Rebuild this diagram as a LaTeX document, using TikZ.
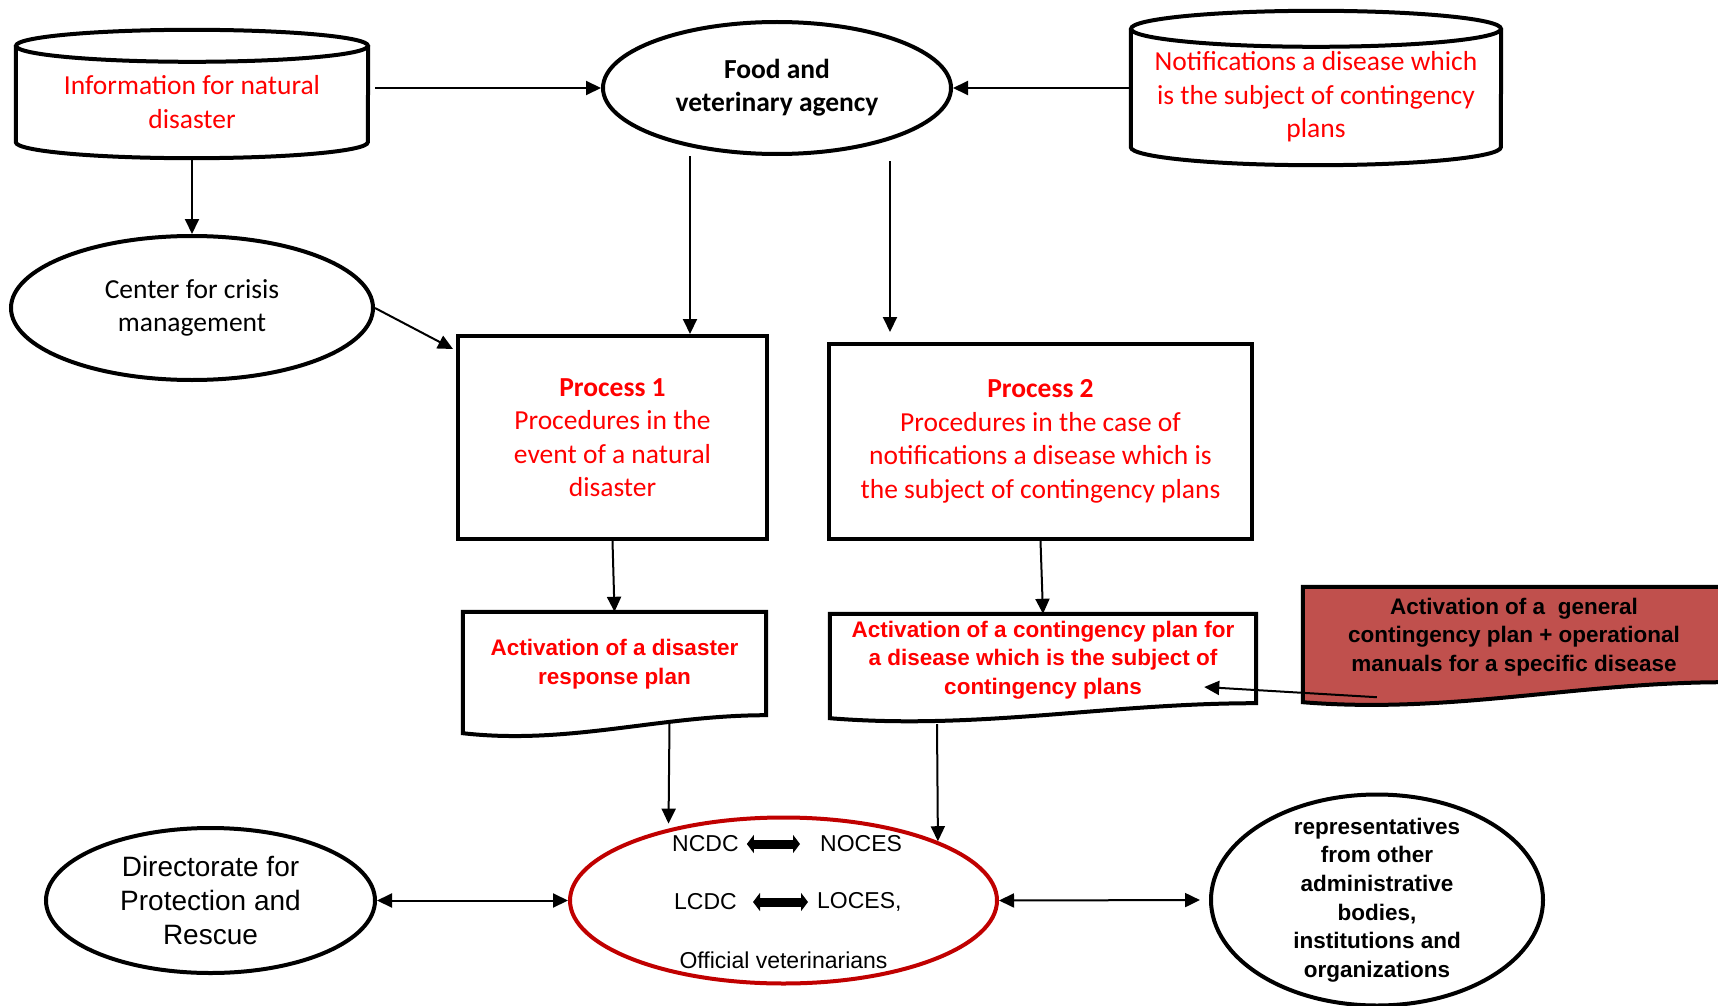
\documentclass[tikz,border=0pt]{standalone}
\usepackage{fontspec}
\setmainfont{Carlito}
\newfontfamily\robo{Liberation Sans}
\usetikzlibrary{arrows.meta,calc,shapes.geometric}

\definecolor{txtred}{RGB}{255,0,0}
\definecolor{opsred}{RGB}{192,0,0}
\definecolor{genfill}{RGB}{192,80,77}

\begin{document}
\begin{tikzpicture}[x=1pt,y=-1pt,
    cal/.style={align=center, inner sep=0pt, font=\fontsize{27.5}{33.5}\selectfont},
    rob/.style={align=center, inner sep=0pt, font=\robo\fontsize{23}{29}\selectfont},
    robb/.style={align=center, inner sep=0pt, font=\robo\bfseries\fontsize{22.5}{28.6}\selectfont},
    ell/.style={draw, ellipse, line width=4pt},
    box/.style={draw, rectangle, line width=4pt},
    arr/.style={line width=2pt, -{Triangle[length=15pt,width=14pt]}},
    darr/.style={line width=2pt, {Triangle[length=15pt,width=14pt]}-{Triangle[length=15pt,width=14pt]}},
    fat/.style={line width=9pt, {Triangle[length=7pt,width=18pt]}-{Triangle[length=7pt,width=18pt]}}]
	\useasboundingbox (0,0) rectangle (1718,1006);

	% Data stores
	\node[cal, text=txtred, minimum width=352pt, minimum height=80pt] (info) at (192,102)
		{Information for natural\\disaster};
	\node[cal, text=txtred, minimum width=370pt, minimum height=100pt] (notif) at (1316,97)
		{Notifications a disease which\\is the subject of contingency\\plans};
	\foreach \n/\r/\e in {info/176/16, notif/185/18}{
		\draw[line width=4pt] ($(\n.north)+(0,-\e)$) ellipse [x radius=\r, y radius=\e];
		\draw[line width=4pt] ($(\n.north west)+(0,-\e)$) -- (\n.south west)
			arc[start angle=180, end angle=0, x radius=\r, y radius=\e]
			-- ($(\n.north east)+(0,-\e)$);
	}

	% Agencies
	\node[ell, cal, font=\bfseries\fontsize{27.5}{33}\selectfont, minimum width=348pt, minimum height=132pt] (food) at (777,88)
		{Food and\\veterinary agency};
	\node[ell, cal, minimum width=362pt, minimum height=144pt] (centre) at (192,308)
		{Center for crisis\\management};

	% Processes
	\node[box, cal, text=txtred, minimum width=309pt, minimum height=203pt] (p1) at (612.5,437.5)
		{\textbf{Process 1}\\Procedures in the\\event of a natural\\disaster};
	\node[box, cal, text=txtred, minimum width=423pt, minimum height=195pt] (p2) at (1040.5,441.5)
		{\textbf{Process 2}\\Procedures in the case of\\notifications a disease which is\\the subject of contingency plans};

	% Documents
	\node[robb, minimum width=303pt, minimum height=104pt] (act1) at (614.5,664) {};
	\node[robb, minimum width=426pt, minimum height=92pt] (act2) at (1043,660) {};
	\node[robb, minimum width=422pt, minimum height=100pt] (gen) at (1514,637) {};
	\foreach \n/\l/\r/\c in {act1/17/-1/none, act2/12/-3/none, gen/15/-5/genfill}{
		\draw[line width=4pt, fill=\c] (\n.north west) -- (\n.north east) -- ($(\n.south east)+(0,\r)$)
			.. controls ($(\n.south east)!0.35!(\n.south west)+(0,\r)$)
			and ($(\n.south west)!0.35!(\n.south east)+(0,\l+12)$) .. ($(\n.south west)+(0,\l)$) -- cycle;
	}
	\node[robb, text=txtred] at (act1) {Activation of a disaster\\response plan};
	\node[robb, text=txtred] at (act2) {Activation of a contingency plan for\\a disease which is the subject of\\contingency plans};
	\node[robb] at (gen) {Activation of a~ general\\contingency plan + operational\\manuals for a specific disease};

	% Bottom row
	\node[ell, draw=opsred, minimum width=427pt, minimum height=166pt] (ops) at (783.5,900.5) {};
	\node[rob, anchor=west] (ncdc) at (672,844) {NCDC};
	\node[rob, anchor=west] (noces) at (820,844) {NOCES};
	\node[rob, anchor=west] (lcdc) at (674,902) {LCDC};
	\node[rob, anchor=west] (loces) at (817,902) {LOCES,};
	\node[rob] (offv) at (783.5,960) {Official veterinarians};
	\draw[fat, shorten <=8pt, shorten >=20pt] (ncdc.east) -- (noces.west);
	\draw[fat, shorten <=16pt, shorten >=9pt] (lcdc.east) -- (loces.west);

	\node[ell, rob, font=\robo\fontsize{28}{34}\selectfont, minimum width=329pt, minimum height=145pt] (dir) at (210.5,900.5)
		{Directorate for\\Protection and\\Rescue};
	\node[ell, robb, inner ysep=-14pt, minimum width=332pt, minimum height=211pt] (reps) at (1377,900)
		{representatives\\from other\\administrative\\bodies,\\institutions and\\organizations};

	% Connectors
	\draw[arr, shorten <=7pt] (info.east |- food.west) -- (food.west);
	\draw[arr] (notif.west |- food.east) -- (food.east);
	\draw[arr] ($(info.south)+(0,16)$) -- (centre.north);
	\draw[arr] (centre.east) -- ($(p1.north west)+(-3,15)$);
	\coordinate (f1) at ($(food.south)+(-87,0)$);
	\coordinate (f2) at ($(food.south)+(113,5)$);
	\draw[arr] (f1) -- (f1 |- p1.north);
	\draw[arr, shorten >=10pt] (f2) -- (f2 |- p2.north);
	\draw[arr] (p1.south) -- (act1.north);
	\draw[arr] (p2.south) -- (act2.north);
	\coordinate (g1) at ($(gen.south west)+(74,10)$);
	\coordinate (g2) at ($(act2.east)+(-52,27)$);
	\draw[arr] (g1) -- (g2);
	\coordinate (a1) at ($(act1.south)+(55,6)$);
	\coordinate (a2) at ($(act2.south)+(-106,18)$);
	\draw[arr, shorten >=5pt] (a1) -- (ops.148.6);
	\draw[arr] (a2) -- (ops.21.5);
	\draw[darr] (dir.east) -- (ops.west);
	\draw[darr, shorten >=9pt] (ops.east) -- (reps.west);
\end{tikzpicture}
\end{document}
